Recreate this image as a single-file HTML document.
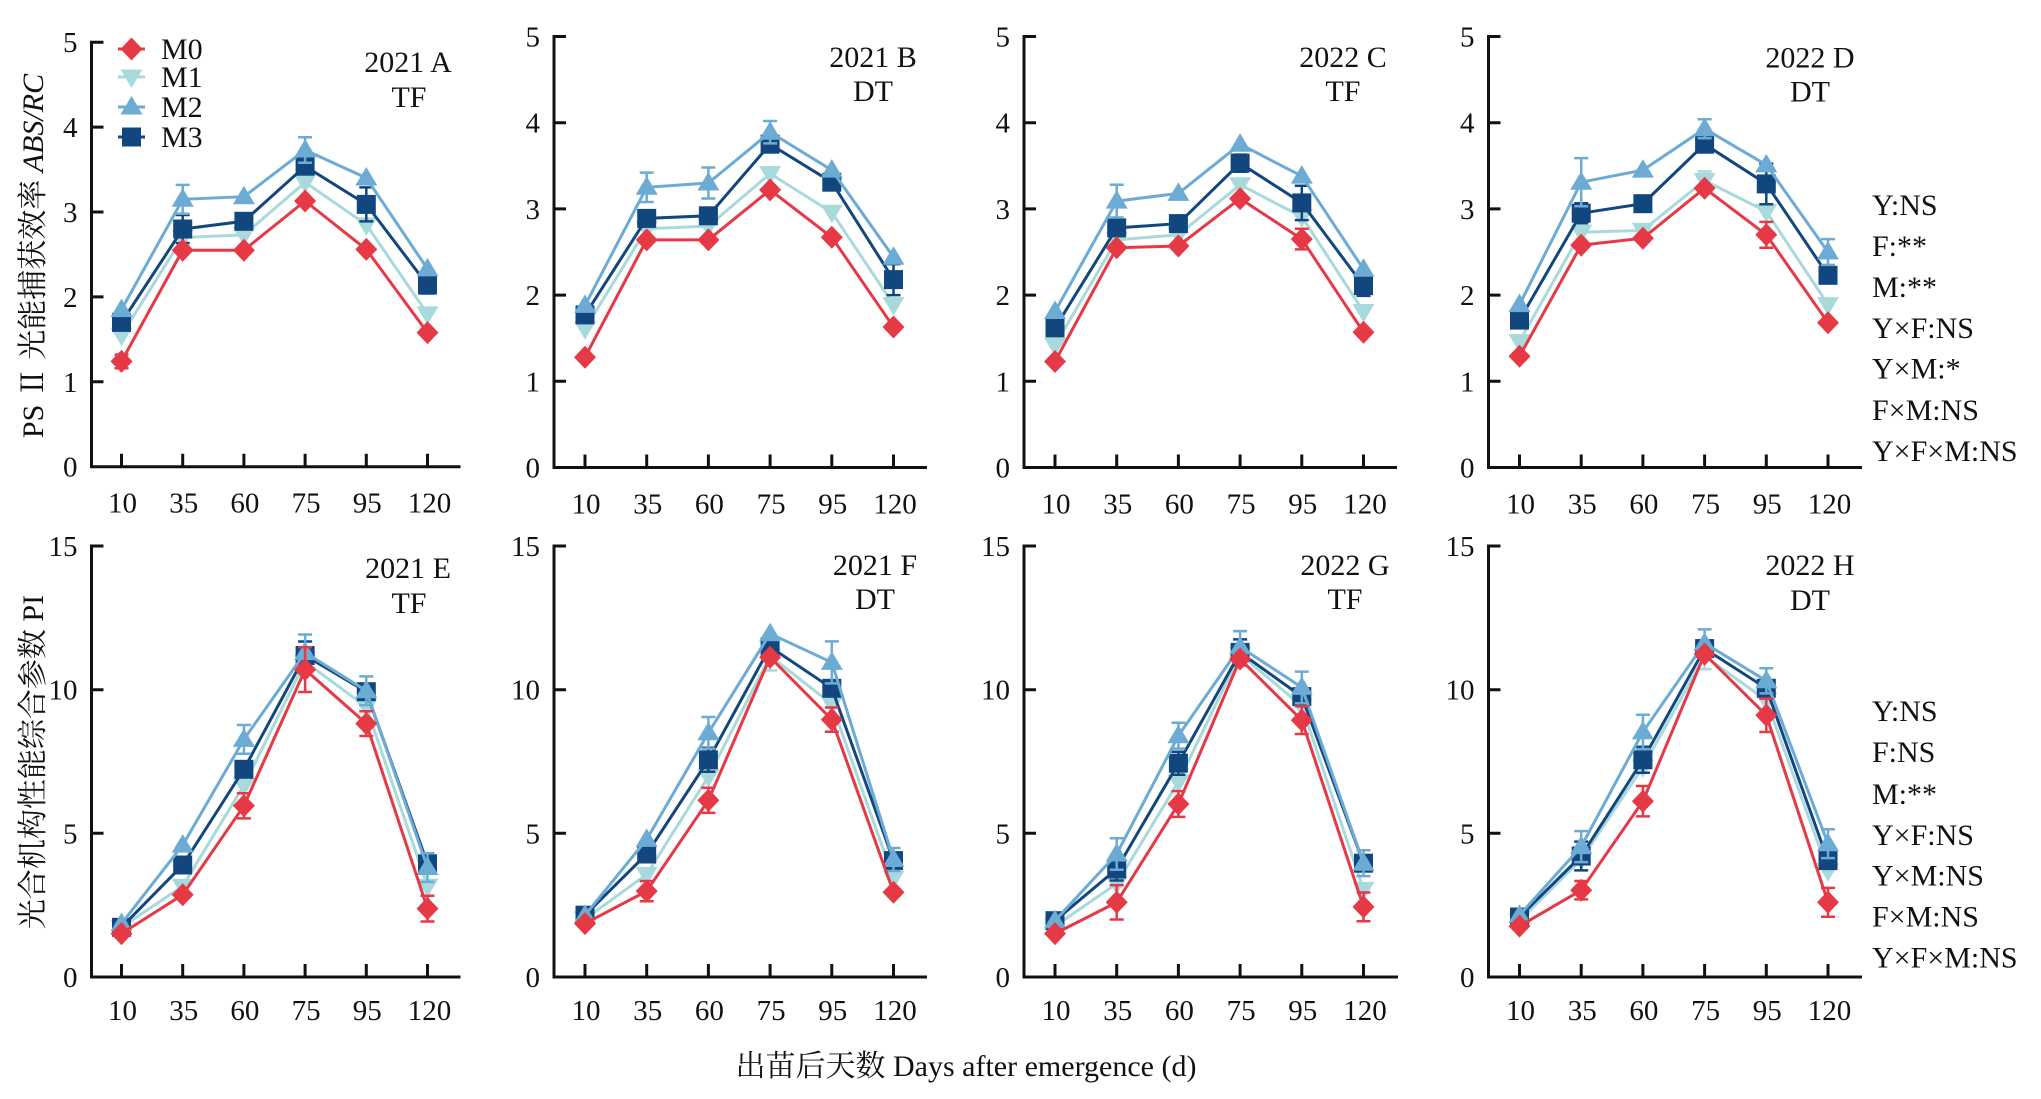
<!DOCTYPE html>
<html><head><meta charset="utf-8"><style>
html,body{margin:0;padding:0;background:#fff;}
svg{display:block;}
text{font-family:"Liberation Serif","Noto Serif CJK SC",serif;fill:#111;}
.tk{font-size:29px;}
.tt{font-size:30px;}
.ax{fill:none;stroke:#111;stroke-width:3;stroke-linejoin:miter;}
.l0{fill:none;stroke:#E63946;stroke-width:3;marker-start:url(#k0);marker-mid:url(#k0);marker-end:url(#k0);}
.l1{fill:none;stroke:#A8DADC;stroke-width:3;marker-start:url(#k1);marker-mid:url(#k1);marker-end:url(#k1);}
.l2{fill:none;stroke:#6CABD4;stroke-width:3;marker-start:url(#k2);marker-mid:url(#k2);marker-end:url(#k2);}
.l3{fill:none;stroke:#12467F;stroke-width:3;marker-start:url(#k3);marker-mid:url(#k3);marker-end:url(#k3);}
.e0{fill:none;stroke:#E63946;stroke-width:2.5;}
.e1{fill:none;stroke:#A8DADC;stroke-width:2.5;}
.e2{fill:none;stroke:#6CABD4;stroke-width:2.5;}
.e3{fill:none;stroke:#12467F;stroke-width:2.5;}
</style></head><body>
<svg width="2041" height="1099" viewBox="0 0 2041 1099" xmlns="http://www.w3.org/2000/svg">
<defs>
<marker id="k0" markerUnits="userSpaceOnUse" viewBox="-14 -14 28 28" markerWidth="28" markerHeight="28" refX="0" refY="0" overflow="visible"><polygon points="0,-11.5 11,0 0,11.5 -11,0" fill="#E63946"/></marker>
<marker id="k1" markerUnits="userSpaceOnUse" viewBox="-14 -14 28 28" markerWidth="28" markerHeight="28" refX="0" refY="0" overflow="visible"><polygon points="-11,-7.5 11,-7.5 0,11" fill="#A8DADC"/></marker>
<marker id="k2" markerUnits="userSpaceOnUse" viewBox="-14 -14 28 28" markerWidth="28" markerHeight="28" refX="0" refY="0" overflow="visible"><polygon points="0,-11 11,7.5 -11,7.5" fill="#6CABD4"/></marker>
<marker id="k3" markerUnits="userSpaceOnUse" viewBox="-14 -14 28 28" markerWidth="28" markerHeight="28" refX="0" refY="0" overflow="visible"><rect x="-9.5" y="-9.5" width="19" height="19" fill="#12467F"/></marker>
</defs>
<rect width="2041" height="1099" fill="#fff"/>

<!-- Y axis titles -->
<text class="tt" transform="translate(43,256) rotate(-90)" text-anchor="middle">PS Ⅱ 光能捕获效率 <tspan font-style="italic">ABS/RC</tspan></text>
<text class="tt" transform="translate(43,762) rotate(-90)" text-anchor="middle">光合机构性能综合参数 PI</text>
<!-- X axis title -->
<text class="tt" x="966" y="1076" text-anchor="middle">出苗后天数 Days after emergence (d)</text>

<!-- Legend -->
<path class="l0" d="M118,49H131.5H145" style="marker-start:none;marker-end:none"/>
<path class="l1" d="M118,77H131.5H145" style="marker-start:none;marker-end:none"/>
<path class="l2" d="M118,107H131.5H145" style="marker-start:none;marker-end:none"/>
<path class="l3" d="M118,137H131.5H145" style="marker-start:none;marker-end:none"/>
<text class="tt" x="161" y="59">M0</text>
<text class="tt" x="161" y="87">M1</text>
<text class="tt" x="161" y="117">M2</text>
<text class="tt" x="161" y="147">M3</text>

<!-- Titles -->
<text class="tt" x="408" y="72" text-anchor="middle">2021 A</text>
<text class="tt" x="409" y="107" text-anchor="middle">TF</text>
<text class="tt" x="873" y="67" text-anchor="middle">2021 B</text>
<text class="tt" x="873" y="101" text-anchor="middle">DT</text>
<text class="tt" x="1343" y="67" text-anchor="middle">2022 C</text>
<text class="tt" x="1343" y="101" text-anchor="middle">TF</text>
<text class="tt" x="1810" y="67.5" text-anchor="middle">2022 D</text>
<text class="tt" x="1810" y="101.5" text-anchor="middle">DT</text>
<text class="tt" x="408" y="578" text-anchor="middle">2021 E</text>
<text class="tt" x="409" y="613" text-anchor="middle">TF</text>
<text class="tt" x="875" y="575" text-anchor="middle">2021 F</text>
<text class="tt" x="875" y="609" text-anchor="middle">DT</text>
<text class="tt" x="1345" y="575" text-anchor="middle">2022 G</text>
<text class="tt" x="1345" y="609" text-anchor="middle">TF</text>
<text class="tt" x="1810" y="575" text-anchor="middle">2022 H</text>
<text class="tt" x="1810" y="610" text-anchor="middle">DT</text>

<!-- Stats -->
<text class="tt" x="1872" y="215">Y:NS</text>
<text class="tt" x="1872" y="256">F:**</text>
<text class="tt" x="1872" y="297">M:**</text>
<text class="tt" x="1872" y="338">Y×F:NS</text>
<text class="tt" x="1872" y="378.6">Y×M:*</text>
<text class="tt" x="1872" y="420">F×M:NS</text>
<text class="tt" x="1872" y="461">Y×F×M:NS</text>
<text class="tt" x="1872" y="721">Y:NS</text>
<text class="tt" x="1872" y="762">F:NS</text>
<text class="tt" x="1872" y="804">M:**</text>
<text class="tt" x="1872" y="845">Y×F:NS</text>
<text class="tt" x="1872" y="885.6">Y×M:NS</text>
<text class="tt" x="1872" y="926.4">F×M:NS</text>
<text class="tt" x="1872" y="967.3">Y×F×M:NS</text>

<!-- Panel A -->
<g transform="translate(91.5,466.7)">
<path class="ax" d="M12,-424.5H0V0H369"/>
<path class="ax" d="M0,-84.9h12M0,-169.8h12M0,-254.7h12M0,-339.6h12M30,0v-13M91.2,0v-13M152.4,0v-13M213.6,0v-13M274.8,0v-13M336,0v-13"/>
<g class="tk" text-anchor="end"><text x="-14" y="10">0</text><text x="-14" y="-74.9">1</text><text x="-14" y="-159.8">2</text><text x="-14" y="-244.7">3</text><text x="-14" y="-329.6">4</text><text x="-14" y="-414.5">5</text></g>
<g class="tk" text-anchor="middle"><text x="31" y="46">10</text><text x="92.2" y="46">35</text><text x="153.4" y="46">60</text><text x="214.6" y="46">75</text><text x="275.8" y="46">95</text><text x="338" y="46">120</text></g>
<polyline class="l1" points="30,-131.6 91.2,-229.2 152.4,-231.8 213.6,-284.4 274.8,-242 336,-152.8"/>
<path class="e3" d="M91.2,-251.7V-223.7M84.2,-251.7h14M84.2,-223.7h14M274.8,-279.3V-245.3M267.8,-279.3h14M267.8,-245.3h14M336,-190.2V-173.2M329,-190.2h14M329,-173.2h14"/>
<polyline class="l3" points="30,-144.3 91.2,-237.7 152.4,-245.4 213.6,-300.5 274.8,-262.3 336,-181.7"/>
<path class="e2" d="M91.2,-281.8V-253M84.2,-281.8h14M84.2,-253h14M213.6,-329.4V-304M206.6,-329.4h14M206.6,-304h14"/>
<polyline class="l2" points="30,-157.1 91.2,-267.4 152.4,-270 213.6,-316.7 274.8,-288.7 336,-197.8"/>
<path class="e0" d="M30,-112.1V-98.5M23,-112.1h14M23,-98.5h14"/>
<polyline class="l0" points="30,-105.3 91.2,-216.5 152.4,-216.5 213.6,-265.7 274.8,-217.3 336,-134.1"/>
</g>

<!-- Panel B -->
<g transform="translate(554,467.5)">
<path class="ax" d="M12,-431H0V0H373"/>
<path class="ax" d="M0,-86.2h12M0,-172.4h12M0,-258.6h12M0,-344.8h12M31,0v-13M92.7,0v-13M154.4,0v-13M216.1,0v-13M277.8,0v-13M339.5,0v-13"/>
<g class="tk" text-anchor="end"><text x="-14" y="10">0</text><text x="-14" y="-76.2">1</text><text x="-14" y="-162.4">2</text><text x="-14" y="-248.6">3</text><text x="-14" y="-334.8">4</text><text x="-14" y="-421">5</text></g>
<g class="tk" text-anchor="middle"><text x="32" y="46">10</text><text x="93.7" y="46">35</text><text x="155.4" y="46">60</text><text x="217.1" y="46">75</text><text x="278.8" y="46">95</text><text x="341" y="46">120</text></g>
<polyline class="l1" points="31,-138.8 92.7,-238.8 154.4,-241.4 216.1,-293.9 277.8,-255.2 339.5,-162.9"/>
<path class="e3" d="M339.5,-203.4V-172.4M332.5,-203.4h14M332.5,-172.4h14"/>
<polyline class="l3" points="31,-152.6 92.7,-249.1 154.4,-251.7 216.1,-323.3 277.8,-285.3 339.5,-187.9"/>
<path class="e2" d="M92.7,-294.9V-265.5M85.7,-294.9h14M85.7,-265.5h14M154.4,-300V-269M147.4,-300h14M147.4,-269h14M216.1,-346.5V-324.1M209.1,-346.5h14M209.1,-324.1h14"/>
<polyline class="l2" points="31,-162.1 92.7,-280.2 154.4,-284.5 216.1,-335.3 277.8,-297.4 339.5,-210.3"/>
<polyline class="l0" points="31,-110.3 92.7,-227.6 154.4,-227.6 216.1,-277.6 277.8,-230.2 339.5,-140.5"/>
</g>

<!-- Panel C -->
<g transform="translate(1024,467.5)">
<path class="ax" d="M12,-431H0V0H373"/>
<path class="ax" d="M0,-86.2h12M0,-172.4h12M0,-258.6h12M0,-344.8h12M31,0v-13M92.7,0v-13M154.4,0v-13M216.1,0v-13M277.8,0v-13M339.5,0v-13"/>
<g class="tk" text-anchor="end"><text x="-14" y="10">0</text><text x="-14" y="-76.2">1</text><text x="-14" y="-162.4">2</text><text x="-14" y="-248.6">3</text><text x="-14" y="-334.8">4</text><text x="-14" y="-421">5</text></g>
<g class="tk" text-anchor="middle"><text x="32" y="46">10</text><text x="93.7" y="46">35</text><text x="155.4" y="46">60</text><text x="217.1" y="46">75</text><text x="278.8" y="46">95</text><text x="341" y="46">120</text></g>
<polyline class="l1" points="31,-122.4 92.7,-227.6 154.4,-232.7 216.1,-282.7 277.8,-250.8 339.5,-156"/>
<path class="e3" d="M277.8,-281.8V-247.4M270.8,-281.8h14M270.8,-247.4h14M216.1,-312.9V-295.7M209.1,-312.9h14M209.1,-295.7h14M339.5,-192.2V-171.6M332.5,-192.2h14M332.5,-171.6h14"/>
<polyline class="l3" points="31,-139.6 92.7,-239.6 154.4,-243.9 216.1,-304.3 277.8,-264.6 339.5,-181.9"/>
<path class="e2" d="M92.7,-282.8V-250M85.7,-282.8h14M85.7,-250h14"/>
<polyline class="l2" points="31,-156 92.7,-266.4 154.4,-274.1 216.1,-323.3 277.8,-291.4 339.5,-198.3"/>
<path class="e0" d="M277.8,-238.7V-218.1M270.8,-238.7h14M270.8,-218.1h14"/>
<polyline class="l0" points="31,-106 92.7,-219.8 154.4,-221.5 216.1,-268.9 277.8,-228.4 339.5,-135.3"/>
</g>

<!-- Panel D -->
<g transform="translate(1488.5,467.5)">
<path class="ax" d="M12,-431H0V0H373.5"/>
<path class="ax" d="M0,-86.2h12M0,-172.4h12M0,-258.6h12M0,-344.8h12M31,0v-13M92.7,0v-13M154.4,0v-13M216.1,0v-13M277.8,0v-13M339.5,0v-13"/>
<g class="tk" text-anchor="end"><text x="-14" y="10">0</text><text x="-14" y="-76.2">1</text><text x="-14" y="-162.4">2</text><text x="-14" y="-248.6">3</text><text x="-14" y="-334.8">4</text><text x="-14" y="-421">5</text></g>
<g class="tk" text-anchor="middle"><text x="32" y="46">10</text><text x="93.7" y="46">35</text><text x="155.4" y="46">60</text><text x="217.1" y="46">75</text><text x="278.8" y="46">95</text><text x="341" y="46">120</text></g>
<path class="e1" d="M216.1,-296V-278M209.1,-296h14M209.1,-278h14"/>
<polyline class="l1" points="31,-125.9 92.7,-235.3 154.4,-237.1 216.1,-287 277.8,-256 339.5,-162.9"/>
<path class="e3" d="M277.8,-303.9V-263.3M270.8,-303.9h14M270.8,-263.3h14M92.7,-264.3V-244.3M85.7,-264.3h14M85.7,-244.3h14"/>
<polyline class="l3" points="31,-147.4 92.7,-254.3 154.4,-263.8 216.1,-323.3 277.8,-283.6 339.5,-192.2"/>
<path class="e2" d="M92.7,-309.4V-261.2M85.7,-309.4h14M85.7,-261.2h14M216.1,-348.3V-329.3M209.1,-348.3h14M209.1,-329.3h14M339.5,-228.4V-202.6M332.5,-228.4h14M332.5,-202.6h14"/>
<polyline class="l2" points="31,-162.9 92.7,-285.3 154.4,-297.4 216.1,-338.8 277.8,-302.6 339.5,-215.5"/>
<path class="e0" d="M277.8,-245.6V-219.8M270.8,-245.6h14M270.8,-219.8h14"/>
<polyline class="l0" points="31,-111.2 92.7,-222.4 154.4,-229.3 216.1,-279.3 277.8,-232.7 339.5,-144.8"/>
</g>

<!-- Panel E -->
<g transform="translate(91.5,977)">
<path class="ax" d="M12,-431H0V0H369"/>
<path class="ax" d="M0,-143.7h12M0,-287.3h12M30,0v-13M91.2,0v-13M152.4,0v-13M213.6,0v-13M274.8,0v-13M336,0v-13"/>
<g class="tk" text-anchor="end"><text x="-14" y="10">0</text><text x="-14" y="-133.7">5</text><text x="-14" y="-277.3">10</text><text x="-14" y="-421">15</text></g>
<g class="tk" text-anchor="middle"><text x="31" y="43">10</text><text x="92.2" y="43">35</text><text x="153.4" y="43">60</text><text x="214.6" y="43">75</text><text x="275.8" y="43">95</text><text x="338" y="43">120</text></g>
<polyline class="l1" points="30,-49.7 91.2,-90.8 152.4,-191.6 213.6,-315.2 274.8,-270.1 336,-90.8"/>
<path class="e3" d="M213.6,-335.5V-307.5M206.6,-335.5h14M206.6,-307.5h14"/>
<polyline class="l3" points="30,-49.7 91.2,-112 152.4,-207.7 213.6,-321.5 274.8,-285.3 336,-113.2"/>
<path class="e2" d="M213.6,-342.5V-306.3M206.6,-342.5h14M206.6,-306.3h14M152.4,-252V-223.2M145.4,-252h14M145.4,-223.2h14M336,-123.9V-95.1M329,-123.9h14M329,-95.1h14M274.8,-300.6V-271.8M267.8,-300.6h14M267.8,-271.8h14"/>
<polyline class="l2" points="30,-53.4 91.2,-131.9 152.4,-237.6 213.6,-324.4 274.8,-286.2 336,-109.5"/>
<path class="e0" d="M213.6,-329.8V-285M206.6,-329.8h14M206.6,-285h14M152.4,-183.8V-158.6M145.4,-183.8h14M145.4,-158.6h14M274.8,-265.8V-241M267.8,-265.8h14M267.8,-241h14M336,-81.3V-55.5M329,-81.3h14M329,-55.5h14"/>
<polyline class="l0" points="30,-43.4 91.2,-82.2 152.4,-171.2 213.6,-307.4 274.8,-253.4 336,-68.4"/>
</g>

<!-- Panel F -->
<g transform="translate(554,977)">
<path class="ax" d="M12,-431H0V0H373"/>
<path class="ax" d="M0,-143.7h12M0,-287.3h12M31,0v-13M92.7,0v-13M154.4,0v-13M216.1,0v-13M277.8,0v-13M339.5,0v-13"/>
<g class="tk" text-anchor="end"><text x="-14" y="10">0</text><text x="-14" y="-133.7">5</text><text x="-14" y="-277.3">10</text><text x="-14" y="-421">15</text></g>
<g class="tk" text-anchor="middle"><text x="32" y="43">10</text><text x="93.7" y="43">35</text><text x="155.4" y="43">60</text><text x="217.1" y="43">75</text><text x="278.8" y="43">95</text><text x="341" y="43">120</text></g>
<path class="e1" d="M216.1,-335.3V-306.5M209.1,-335.3h14M209.1,-306.5h14"/>
<polyline class="l1" points="31,-58 92.7,-102.6 154.4,-200.5 216.1,-320.9 277.8,-272.9 339.5,-98.8"/>
<path class="e3" d="M154.4,-229.2V-205.2M147.4,-229.2h14M147.4,-205.2h14"/>
<polyline class="l3" points="31,-61.8 92.7,-123 154.4,-217.2 216.1,-330.1 277.8,-288.7 339.5,-116.4"/>
<path class="e2" d="M154.4,-260V-228.4M147.4,-260h14M147.4,-228.4h14M277.8,-335.6V-293.6M270.8,-335.6h14M270.8,-293.6h14M339.5,-129V-106M332.5,-129h14M332.5,-106h14"/>
<polyline class="l2" points="31,-61.8 92.7,-137.6 154.4,-244.2 216.1,-343.3 277.8,-314.6 339.5,-117.5"/>
<path class="e0" d="M154.4,-189.3V-164.1M147.4,-189.3h14M147.4,-164.1h14M277.8,-269.5V-245.3M270.8,-269.5h14M270.8,-245.3h14M92.7,-96V-75.8M85.7,-96h14M85.7,-75.8h14"/>
<polyline class="l0" points="31,-53.4 92.7,-85.9 154.4,-176.7 216.1,-319.8 277.8,-257.4 339.5,-84.8"/>
</g>

<!-- Panel G -->
<g transform="translate(1024,977)">
<path class="ax" d="M12,-431H0V0H374"/>
<path class="ax" d="M0,-143.7h12M0,-287.3h12M31,0v-13M92.7,0v-13M154.4,0v-13M216.1,0v-13M277.8,0v-13M339.5,0v-13"/>
<g class="tk" text-anchor="end"><text x="-14" y="10">0</text><text x="-14" y="-133.7">5</text><text x="-14" y="-277.3">10</text><text x="-14" y="-421">15</text></g>
<g class="tk" text-anchor="middle"><text x="32" y="43">10</text><text x="93.7" y="43">35</text><text x="155.4" y="43">60</text><text x="217.1" y="43">75</text><text x="278.8" y="43">95</text><text x="341" y="43">120</text></g>
<polyline class="l1" points="31,-50.9 92.7,-93.4 154.4,-195.1 216.1,-322.9 277.8,-270.9 339.5,-87.6"/>
<path class="e3" d="M154.4,-225.3V-202.3M147.4,-225.3h14M147.4,-202.3h14M92.7,-119.5V-96.5M85.7,-119.5h14M85.7,-96.5h14M216.1,-337.6V-311.6M209.1,-337.6h14M209.1,-311.6h14"/>
<polyline class="l3" points="31,-56.3 92.7,-108 154.4,-213.8 216.1,-324.6 277.8,-280.4 339.5,-113.8"/>
<path class="e2" d="M92.7,-138.8V-107.2M85.7,-138.8h14M85.7,-107.2h14M154.4,-254.2V-228.4M147.4,-254.2h14M147.4,-228.4h14M216.1,-345.9V-314.3M209.1,-345.9h14M209.1,-314.3h14M277.8,-305.4V-273.8M270.8,-305.4h14M270.8,-273.8h14M339.5,-126.7V-100.9M332.5,-126.7h14M332.5,-100.9h14"/>
<polyline class="l2" points="31,-56.3 92.7,-123 154.4,-241.3 216.1,-330.1 277.8,-289.6 339.5,-113.8"/>
<path class="e0" d="M92.7,-91.9V-57.5M85.7,-91.9h14M85.7,-57.5h14M154.4,-185.9V-160.1M147.4,-185.9h14M147.4,-160.1h14M277.8,-270.6V-243M270.8,-270.6h14M270.8,-243h14M339.5,-84.5V-55.7M332.5,-84.5h14M332.5,-55.7h14"/>
<polyline class="l0" points="31,-43.4 92.7,-74.7 154.4,-173 216.1,-318 277.8,-256.8 339.5,-70.1"/>
</g>

<!-- Panel H -->
<g transform="translate(1488.5,977)">
<path class="ax" d="M12,-431H0V0H373.5"/>
<path class="ax" d="M0,-143.7h12M0,-287.3h12M31,0v-13M92.7,0v-13M154.4,0v-13M216.1,0v-13M277.8,0v-13M339.5,0v-13"/>
<g class="tk" text-anchor="end"><text x="-14" y="10">0</text><text x="-14" y="-133.7">5</text><text x="-14" y="-277.3">10</text><text x="-14" y="-421">15</text></g>
<g class="tk" text-anchor="middle"><text x="32" y="43">10</text><text x="93.7" y="43">35</text><text x="155.4" y="43">60</text><text x="217.1" y="43">75</text><text x="278.8" y="43">95</text><text x="341" y="43">120</text></g>
<path class="e1" d="M216.1,-333.9V-307.9M209.1,-333.9h14M209.1,-307.9h14"/>
<polyline class="l1" points="31,-56.3 92.7,-117.5 154.4,-210 216.1,-320.9 277.8,-276.7 339.5,-106.3"/>
<path class="e3" d="M92.7,-135.4V-106.6M85.7,-135.4h14M85.7,-106.6h14M154.4,-230.2V-204.2M147.4,-230.2h14M147.4,-204.2h14"/>
<polyline class="l3" points="31,-60 92.7,-121 154.4,-217.2 216.1,-328.4 277.8,-288.7 339.5,-116.4"/>
<path class="e2" d="M154.4,-262.3V-227.9M147.4,-262.3h14M147.4,-227.9h14M92.7,-145.9V-114.9M85.7,-145.9h14M85.7,-114.9h14M216.1,-347.6V-320M209.1,-347.6h14M209.1,-320h14M277.8,-308.8V-283.6M270.8,-308.8h14M270.8,-283.6h14M339.5,-147.7V-118.9M332.5,-147.7h14M332.5,-118.9h14"/>
<polyline class="l2" points="31,-61.8 92.7,-130.4 154.4,-245.1 216.1,-333.8 277.8,-296.2 339.5,-133.3"/>
<path class="e0" d="M154.4,-191V-160.6M147.4,-191h14M147.4,-160.6h14M92.7,-96V-77.6M85.7,-96h14M85.7,-77.6h14M277.8,-278.4V-245M270.8,-278.4h14M270.8,-245h14M339.5,-89.1V-60.3M332.5,-89.1h14M332.5,-60.3h14"/>
<polyline class="l0" points="31,-50.9 92.7,-86.8 154.4,-175.8 216.1,-322.9 277.8,-261.7 339.5,-74.7"/>
</g>
</svg>
</body></html>
